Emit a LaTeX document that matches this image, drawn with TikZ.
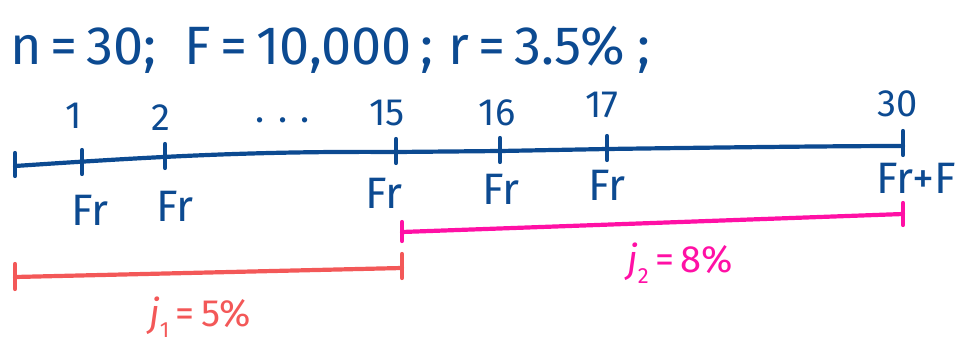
\documentclass[tikz,border=0pt]{standalone}
\usepackage{fontspec}
\setmainfont{Fira Sans}
\definecolor{inkblue}{RGB}{12,74,145}
\definecolor{inkpink}{RGB}{255,16,165}
\definecolor{inkred}{RGB}{243,88,88}
\newcommand{\jsub}[1]{\textit{j}\raisebox{-0.3em}{\fontsize{22}{22}\selectfont #1}}
\tikzset{
  pen/.style={line width=4.2pt, line cap=round, line join=round},
  bluepen/.style={pen, draw=inkblue},
  pinkpen/.style={pen, draw=inkpink},
  redpen/.style={pen, draw=inkred},
  toplab/.style={text=inkblue, font=\fontsize{38}{38}\selectfont, inner sep=0pt},
  frlab/.style={text=inkblue, font=\fontsize{44}{44}\selectfont, inner sep=0pt},
  ratelab/.style={font=\fontsize{38}{38}\selectfont, inner sep=0pt, anchor=base},
  titlelab/.style={anchor=base west, text=inkblue, font=\fontsize{54}{54}\selectfont, inner sep=0pt},
}
\begin{document}
\begin{tikzpicture}[x=1pt,y=-1pt]
\useasboundingbox (0,0) rectangle (967,354);
% title
\node[titlelab] (title) at (10,64) {n\,=\,30;\hspace{28pt}F\,=\,10,000\,;\ r\,=\,3.5\%\hspace{12pt};};
% timeline coordinates
\coordinate (t0) at (15,166);
\coordinate (t1) at (82,163);
\coordinate (t2) at (165,157);
\coordinate (t15) at (396,152);
\coordinate (t16) at (500,151);
\coordinate (t17) at (607,149);
\coordinate (t30) at (903,146);
\draw[bluepen] (t0) .. controls (150,157) and (250,151) .. (t15) -- (t16) -- (t17) .. controls (750,147) and (850,146) .. (t30);
% end caps and ticks
\draw[bluepen] ([yshift=-10]t0) -- ([yshift=13]t0);
\foreach \c in {t1,t2,t15,t16,t17}{
  \draw[bluepen] ([yshift=-11]\c) -- ([yshift=13]\c);
}
\draw[bluepen] ([yshift=-9]t30) -- ([yshift=15]t30);
% labels above
\node[toplab] (l1) at (74,116) {1};
\node[toplab] (l2) at (161,118) {2};
\node[toplab] (ldots) at (283,120) {. . .};
\node[toplab] (l15) at (387,113) {15};
\node[toplab] (l16) at (497,113) {16};
\node[toplab] (l17) at (602,105) {17};
\node[toplab] (l30) at (898,104) {30};
% labels below
\node[frlab] (f1) at (90,210) {Fr};
\node[frlab] (f2) at (175,206) {Fr};
\node[frlab] (f15) at (384,193) {Fr};
\node[frlab] (f16) at (501,189) {Fr};
\node[frlab] (f17) at (607,185) {Fr};
\node[frlab] (f30) at (916,178) {Fr+F};
% pink interval
\coordinate (p0) at (402,232);
\coordinate (p1) at (903,214);
\draw[pinkpen] (p0) -- (p1);
\draw[pinkpen] ([yshift=-9]p0) -- ([yshift=10]p0);
\draw[pinkpen] ([yshift=-11]p1) -- ([yshift=11]p1);
\node[ratelab, text=inkpink] (j2) at (680,272) {\jsub{2}\,=\,8\%};
% red interval
\coordinate (r0) at (15,277);
\coordinate (r1) at (402,268);
\draw[redpen] (r0) -- (r1);
\draw[redpen] ([yshift=-12]r0) -- ([yshift=13]r0);
\draw[redpen] ([yshift=-10]r1) -- ([yshift=14]r1);
\node[ratelab, text=inkred] (j1) at (200,326) {\jsub{1}\,=\,5\%};
\end{tikzpicture}
\end{document}
